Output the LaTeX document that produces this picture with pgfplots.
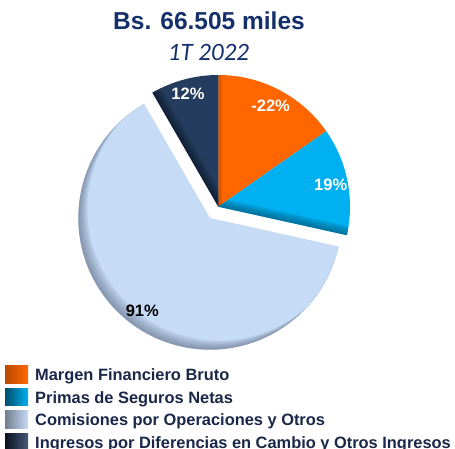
\documentclass[border=0pt]{standalone}
\usepackage{fontspec}
\setmainfont{Liberation Sans}
\newfontfamily\calibri{Carlito}
\usepackage{pgfplots}
\usepackage{pgfplotstable}
\pgfplotsset{compat=1.18}

\definecolor{orangeS}{HTML}{FF6600}
\definecolor{orangeD}{HTML}{B84A00}
\definecolor{blueS}{HTML}{00B0F0}
\definecolor{blueD}{HTML}{004E6C}
\definecolor{lightS}{HTML}{C6DBF6}
\definecolor{lightD}{HTML}{4F5D73}
\definecolor{navyS}{HTML}{243D5E}
\definecolor{navyD}{HTML}{0A1220}
\definecolor{titleC}{HTML}{14306B}
\definecolor{legC}{HTML}{1B2748}

% share of each item (1T 2022), in %
\pgfplotstableread{
value
-22
19
91
12
}\slices

\newcommand\labelfont{\fontsize{16.5}{19}\selectfont\bfseries}
\newcommand\legfont{\fontsize{16.4}{19}\selectfont\bfseries}
\def\R{131.7}

% #1,#2 centre  #3,#4 angles  #5 style
\newcommand\sectorfill[5]{\fill[#5] (axis cs:#1,#2) -- (axis cs:{#1+\R*cos(#3)},{#2+\R*sin(#3)}) arc[start angle=#3, end angle=#4, radius=\R pt] -- cycle;}
\newcommand\sectorclip[4]{\clip (axis cs:#1,#2) -- (axis cs:{#1+\R*cos(#3)},{#2+\R*sin(#3)}) arc[start angle=#3, end angle=#4, radius=\R pt] -- cycle;}
% soft shadow on the lower left rim: crescents between the circle and shifted copies
\newcommand\crescent[4]{\fill[#3, opacity=.13, even odd rule] (axis cs:#1,#2) circle[radius=\R pt] (axis cs:{#1+#4},{#2+#4}) circle[radius=\R pt];}
\newcommand\rimshade[3]{%
  \crescent{#1}{#2}{#3}{1.8}\crescent{#1}{#2}{#3}{3.6}\crescent{#1}{#2}{#3}{5.4}%
  \crescent{#1}{#2}{#3}{7.2}\crescent{#1}{#2}{#3}{9}}
% soft shadow along a radius
\newcommand\edgeline[5]{\draw[#4, line width=#5pt, opacity=.16] (axis cs:#1,#2) -- (axis cs:{#1+1.1*\R*cos(#3)},{#2+1.1*\R*sin(#3)});}
\newcommand\rimline[5]{%
  \edgeline{#1}{#2}{#3}{#4}{#5*2}\edgeline{#1}{#2}{#3}{#4}{#5*1.6}\edgeline{#1}{#2}{#3}{#4}{#5*1.2}%
  \edgeline{#1}{#2}{#3}{#4}{#5*0.8}\edgeline{#1}{#2}{#3}{#4}{#5*0.4}}

\begin{document}
\begin{tikzpicture}
\pgfplotstablegetelem{0}{value}\of\slices\let\vA\pgfplotsretval
\pgfplotstablegetelem{1}{value}\of\slices\let\vB\pgfplotsretval
\pgfplotstablegetelem{2}{value}\of\slices\let\vC\pgfplotsretval
\pgfplotstablegetelem{3}{value}\of\slices\let\vD\pgfplotsretval
\pgfmathsetmacro\tot{abs(\vA)+abs(\vB)+abs(\vC)+abs(\vD)}
\pgfmathsetmacro\aA{90}
\pgfmathsetmacro\aB{\aA-abs(\vA)/\tot*360}
\pgfmathsetmacro\aC{\aB-abs(\vB)/\tot*360}
\pgfmathsetmacro\aD{\aC-abs(\vC)/\tot*360}
\pgfmathsetmacro\aE{\aD-abs(\vD)/\tot*360}
\pgfmathsetmacro\mA{(\aA+\aB)/2}
\pgfmathsetmacro\mB{(\aB+\aC)/2}
\pgfmathsetmacro\mC{(\aC+\aD)/2}
\pgfmathsetmacro\mD{(\aD+\aE)/2}
\def\cx{218.3}\def\cy{242.3}
\pgfmathsetmacro\ex{\cx+14*cos(\mC)}
\pgfmathsetmacro\ey{\cy+14*sin(\mC)}

\begin{axis}[width=455pt, height=449pt, scale only axis, at={(0pt,0pt)}, anchor=south west,
  xmin=0, xmax=455, ymin=0, ymax=449, hide axis, clip=false]
% exploded slice
\sectorfill{\ex}{\ey}{\aC}{\aD}{lightS}
\begin{scope}
\sectorclip{\ex}{\ey}{\aC}{\aD}
\rimshade{\ex}{\ey}{lightD}
\end{scope}
% the other three
\sectorfill{\cx}{\cy}{\aA}{\aB}{orangeS}
\begin{scope}
\sectorclip{\cx}{\cy}{\aA}{\aB}
\rimline{\cx}{\cy}{\aA}{orangeD}{4}
\end{scope}
\sectorfill{\cx}{\cy}{\aB}{\aC}{blueS}
\begin{scope}
\sectorclip{\cx}{\cy}{\aB}{\aC}
\rimline{\cx}{\cy}{\aC}{blueD}{9}
\end{scope}
\sectorfill{\cx}{\cy}{\aD}{\aE}{navyS}
\begin{scope}
\sectorclip{\cx}{\cy}{\aD}{\aE}
\rimline{\cx}{\cy}{\aD}{navyD}{9}
\end{scope}
% percentages
\node[font=\labelfont, text=white] at (axis cs:{\cx+0.86*\R*cos(\mA)},{\cy+0.86*\R*sin(\mA)}) {\vA\%};
\node[font=\labelfont, text=white] at (axis cs:{\cx+0.87*\R*cos(\mB)},{\cy+0.87*\R*sin(\mB)}) {\vB\%};
\node[font=\labelfont, text=black] at (axis cs:{\ex+0.87*\R*cos(\mC)},{\ey+0.87*\R*sin(\mC)}) {\vC\%};
\node[font=\labelfont, text=white] at (axis cs:{\cx+0.89*\R*cos(\mD)},{\cy+0.89*\R*sin(\mD)}) {\vD\%};
% titles
\node[anchor=base, inner sep=0, font=\fontsize{24.5}{28}\selectfont\bfseries, text=titleC] at (axis cs:209,419.7) {Bs. 66.505 miles};
\node[anchor=base, inner sep=0, font=\calibri\itshape\fontsize{25}{30}\selectfont, text=titleC] at (axis cs:208.5,388) {1T 2022};
% legend
\shade[left color=orangeD, right color=orangeS] (axis cs:5,65.7) rectangle (axis cs:28,83);
\shade[left color=blueD, right color=blueS] (axis cs:5,43.2) rectangle (axis cs:28,60.5);
\shade[left color=lightD!80!white, right color=lightS] (axis cs:5,20.7) rectangle (axis cs:28,38);
\shade[left color=navyD, right color=navyS!85!white] (axis cs:5,-1.8) rectangle (axis cs:28,15.5);
\node[anchor=base west, inner sep=0, font=\legfont, text=legC] at (axis cs:35,68) {Margen Financiero Bruto};
\node[anchor=base west, inner sep=0, font=\legfont, text=legC] at (axis cs:35,45.5) {Primas de Seguros Netas};
\node[anchor=base west, inner sep=0, font=\legfont, text=legC] at (axis cs:35,23) {Comisiones por Operaciones y Otros};
\node[anchor=base west, inner sep=0, font=\legfont, text=legC] at (axis cs:35,0.5) {Ingresos por Diferencias en Cambio y Otros Ingresos};
\end{axis}
\pgfresetboundingbox
\path[use as bounding box] (0,0) rectangle (455pt,449pt);
\end{tikzpicture}
\end{document}
